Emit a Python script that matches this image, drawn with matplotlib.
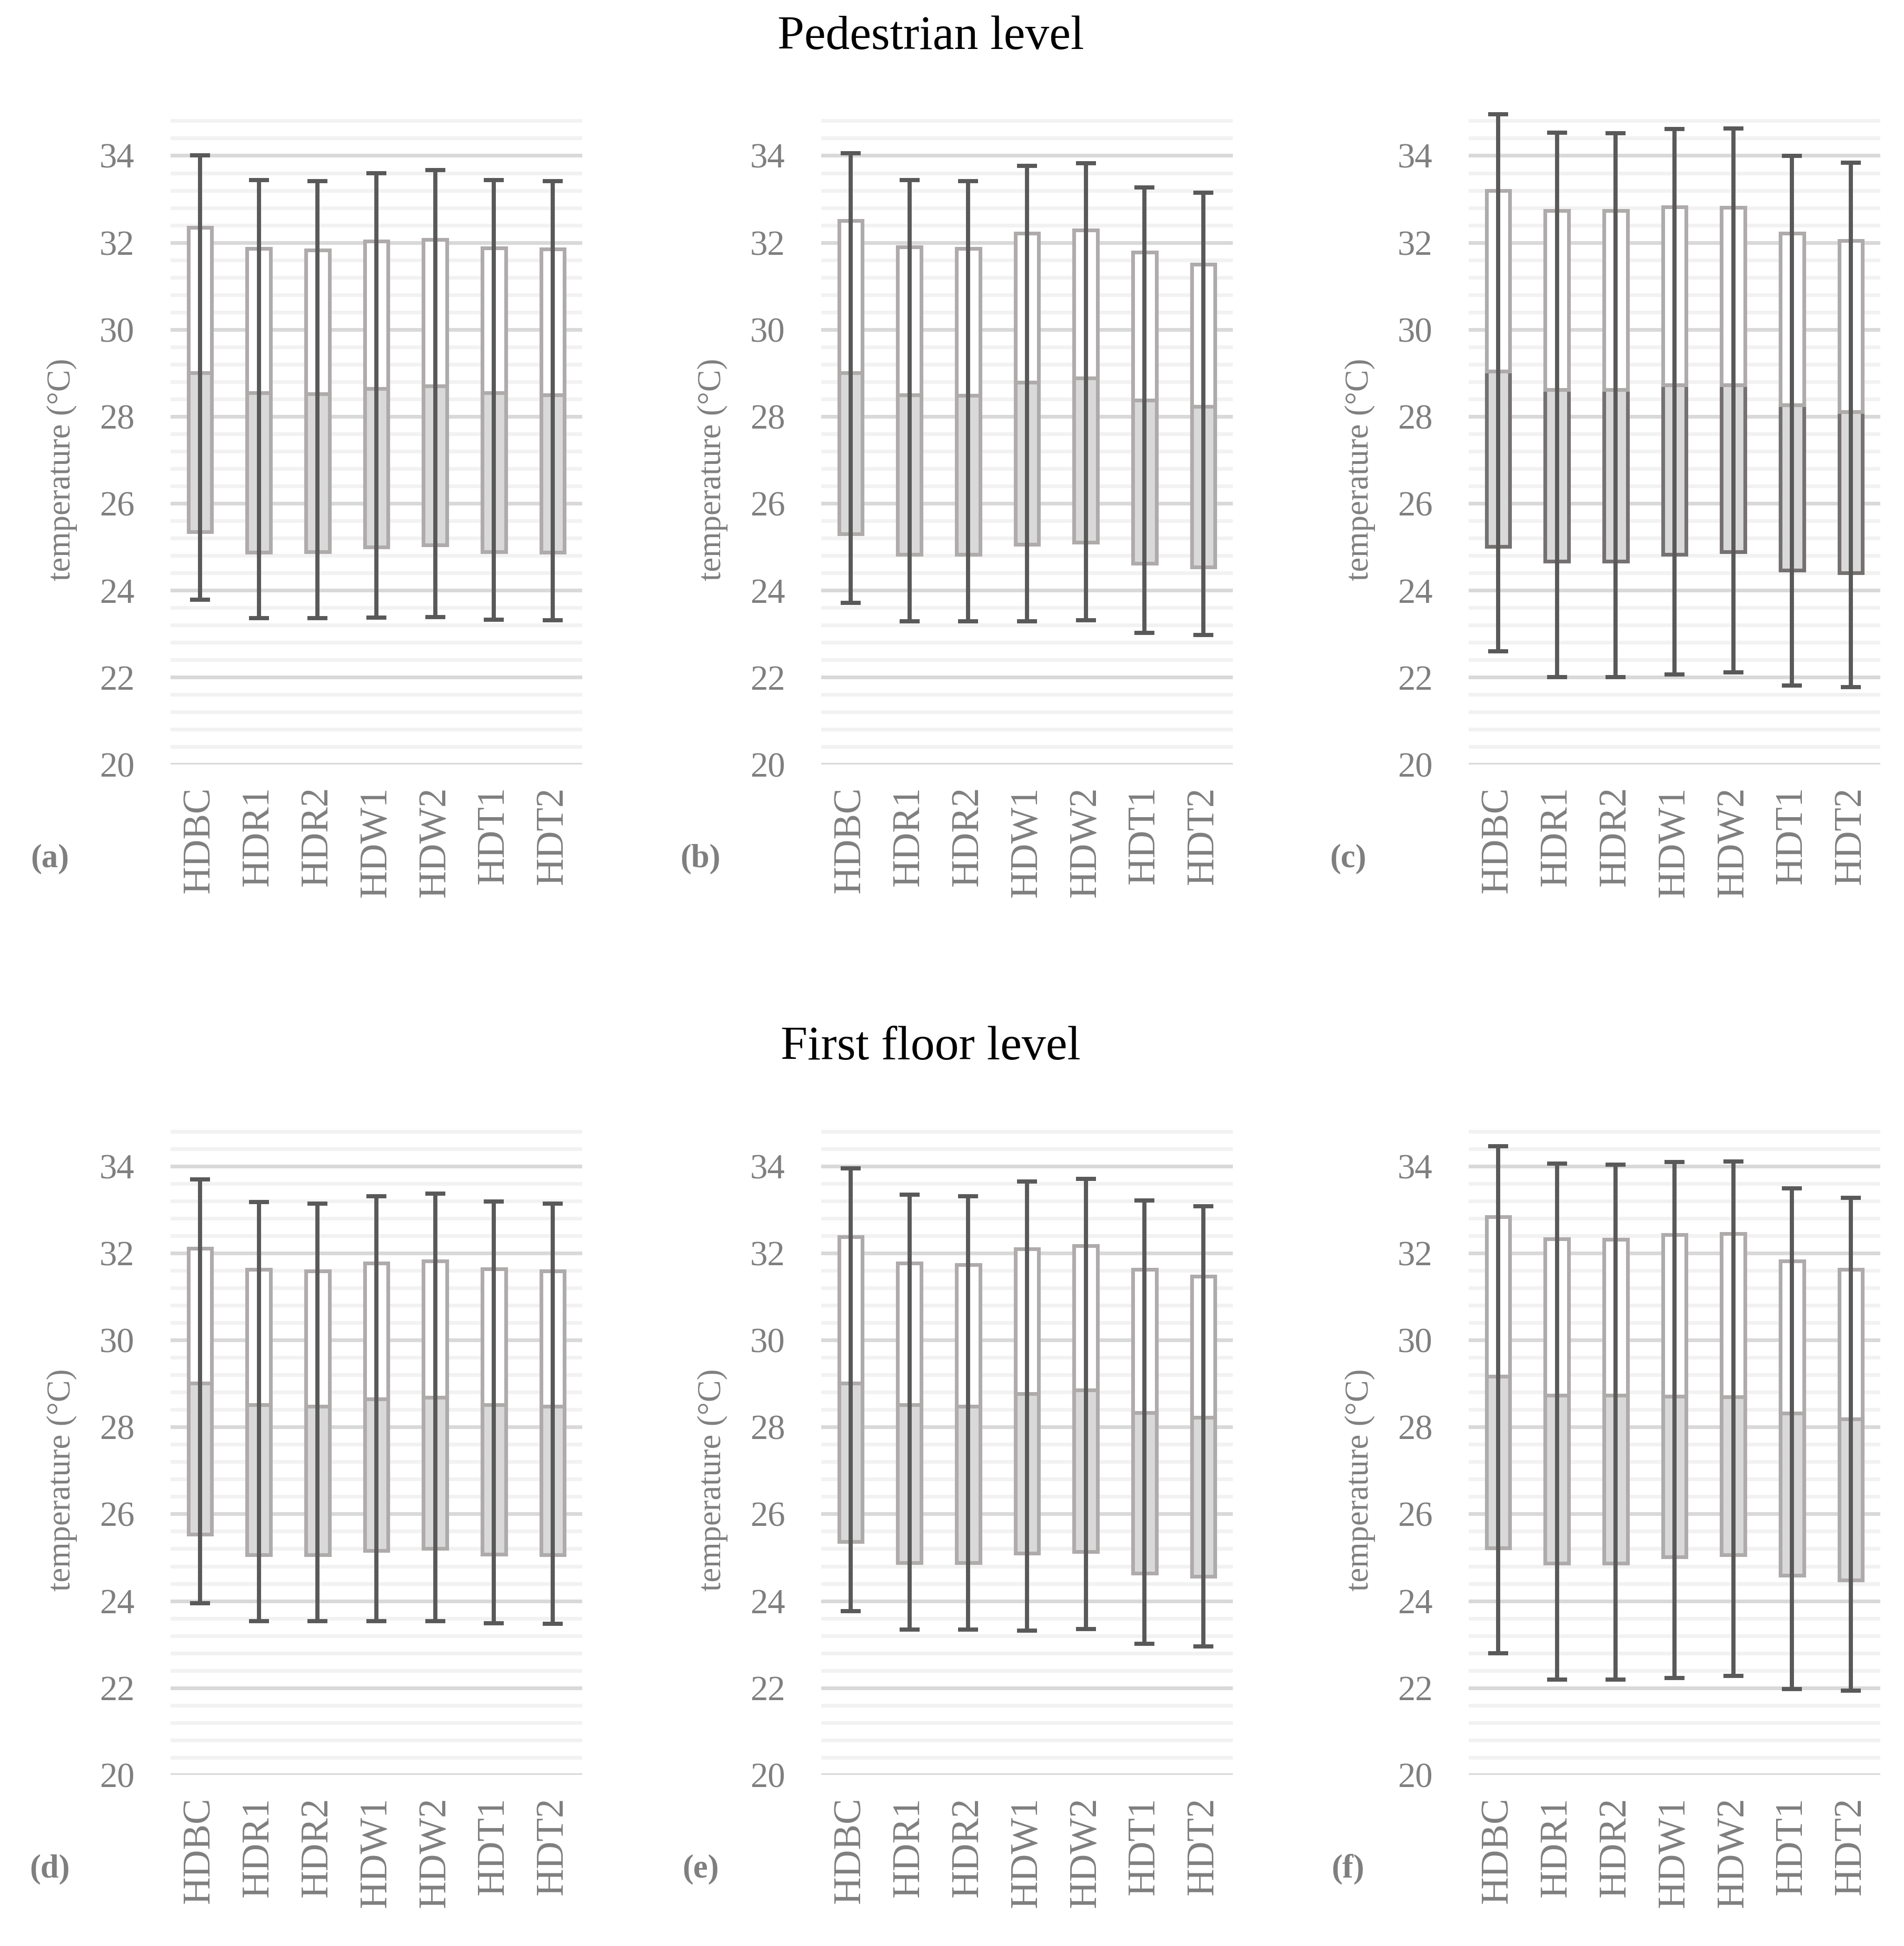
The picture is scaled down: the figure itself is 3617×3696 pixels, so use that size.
import numpy as np
import matplotlib
matplotlib.use("Agg")
import matplotlib.pyplot as plt

categories = ["HDBC", "HDR1", "HDR2", "HDW1", "HDW2", "HDT1", "HDT2"]

# (a) Pedestrian level
a_max = [34.00, 33.44, 33.41, 33.60, 33.67, 33.44, 33.41]
a_q3  = [32.35, 31.86, 31.83, 32.03, 32.07, 31.87, 31.85]
a_med = [29.01, 28.54, 28.52, 28.64, 28.70, 28.54, 28.50]
a_q1  = [25.35, 24.88, 24.89, 24.99, 25.04, 24.89, 24.88]
a_min = [23.78, 23.36, 23.36, 23.37, 23.38, 23.32, 23.31]

# (b)
b_max = [34.06, 33.44, 33.41, 33.76, 33.83, 33.27, 33.14]
b_q3  = [32.50, 31.90, 31.86, 32.21, 32.29, 31.78, 31.50]
b_med = [29.01, 28.50, 28.48, 28.79, 28.88, 28.37, 28.23]
b_q1  = [25.30, 24.83, 24.83, 25.06, 25.11, 24.62, 24.53]
b_min = [23.71, 23.29, 23.29, 23.29, 23.31, 23.02, 22.97]

# (c)
c_max = [34.95, 34.53, 34.52, 34.61, 34.62, 33.99, 33.84]
c_q3  = [33.20, 32.73, 32.73, 32.82, 32.81, 32.21, 32.04]
c_med = [29.04, 28.62, 28.62, 28.73, 28.72, 28.27, 28.11]
c_q1  = [25.01, 24.67, 24.67, 24.82, 24.89, 24.46, 24.40]
c_min = [22.60, 22.01, 22.01, 22.06, 22.11, 21.81, 21.77]

# (d) First floor level
d_max = [33.69, 33.17, 33.13, 33.31, 33.36, 33.18, 33.13]
d_q3  = [32.11, 31.62, 31.59, 31.77, 31.82, 31.63, 31.59]
d_med = [29.01, 28.51, 28.48, 28.64, 28.68, 28.51, 28.48]
d_q1  = [25.53, 25.06, 25.06, 25.16, 25.21, 25.07, 25.06]
d_min = [23.95, 23.53, 23.53, 23.53, 23.54, 23.49, 23.48]

# (e)
e_max = [33.95, 33.34, 33.30, 33.64, 33.71, 33.21, 33.07]
e_q3  = [32.37, 31.77, 31.73, 32.10, 32.17, 31.62, 31.46]
e_med = [29.01, 28.51, 28.48, 28.77, 28.85, 28.33, 28.22]
e_q1  = [25.36, 24.88, 24.88, 25.10, 25.13, 24.64, 24.56]
e_min = [23.76, 23.34, 23.34, 23.32, 23.35, 23.01, 22.96]

# (f)
f_max = [34.46, 34.05, 34.03, 34.09, 34.10, 33.49, 33.27]
f_q3  = [32.83, 32.32, 32.31, 32.42, 32.45, 31.81, 31.62]
f_med = [29.17, 28.73, 28.73, 28.70, 28.69, 28.32, 28.18]
f_q1  = [25.22, 24.87, 24.87, 25.01, 25.06, 24.59, 24.48]
f_min = [22.80, 22.19, 22.19, 22.23, 22.28, 21.97, 21.94]

panel_labels = ["a", "b", "c", "d", "e", "f"]
row_titles = ["Pedestrian level", "First floor level"]
y_label = "temperature (\u00b0C)"

panels = [
    (a_max, a_q3, a_med, a_q1, a_min),
    (b_max, b_q3, b_med, b_q1, b_min),
    (c_max, c_q3, c_med, c_q1, c_min),
    (d_max, d_q3, d_med, d_q1, d_min),
    (e_max, e_q3, e_med, e_q1, e_min),
    (f_max, f_q3, f_med, f_q1, f_min),
]

SERIF = ["Liberation Serif", "DejaVu Serif"]
GRAY_TXT = "#7F7F7F"
BOX_EDGE = "#AFABAB"
BOX_EDGE_DARK = "#767171"
BOX_FILL = "#D9D9D9"
WHISK = "#595959"

W, H = 3617, 3696
DPI = 300
fig = plt.figure(figsize=(W / DPI, H / DPI), dpi=DPI)

lefts = [324, 1560, 2790]
ax_w = 782
row_top = [212.9, 2132.0]
row_bot = [1451.5, 3371.0]

x = np.arange(len(categories))

for i, (vmax, vq3, vmed, vq1, vmin) in enumerate(panels):
    r, c = divmod(i, 3)
    l = lefts[c] / W
    b = 1 - row_bot[r] / H
    h = (row_bot[r] - row_top[r]) / H
    ax = fig.add_axes([l, b, ax_w / W, h])

    vmax = np.array(vmax); vq3 = np.array(vq3); vmed = np.array(vmed)
    vq1 = np.array(vq1); vmin = np.array(vmin)

    low_edge = BOX_EDGE_DARK if panel_labels[i] == "c" else BOX_EDGE
    ax.bar(x, vmed - vq1, bottom=vq1, width=0.40, color=BOX_FILL,
           edgecolor=low_edge, linewidth=1.7, zorder=3)
    ax.bar(x, vq3 - vmed, bottom=vmed, width=0.40, color="white",
           edgecolor=BOX_EDGE, linewidth=1.7, zorder=3)
    ax.errorbar(x, vmed, yerr=[vmed - vmin, vmax - vmed], fmt="none",
                ecolor=WHISK, elinewidth=1.9, capsize=4.6, capthick=1.9,
                zorder=5)

    ax.set_xlim(-0.5, len(categories) - 0.5)
    ax.set_ylim(20, 35)
    ax.set_yticks(np.arange(20, 34.01, 2))
    ax.set_yticks(np.arange(20, 34.81, 0.4), minor=True)
    ax.yaxis.grid(True, which="major", color="#D9D9D9", linewidth=1.7, zorder=0)
    ax.yaxis.grid(True, which="minor", color="#F2F2F2", linewidth=1.7, zorder=0)
    ax.set_axisbelow(True)
    for s in ax.spines.values():
        s.set_visible(False)

    ax.set_xticks(x)
    ax.set_xticklabels(categories, rotation=90, family=SERIF, fontsize=17.5,
                       color=GRAY_TXT)
    ax.set_yticklabels([f"{v:g}" for v in np.arange(20, 34.01, 2)],
                       family=SERIF, fontsize=16, color=GRAY_TXT)
    ax.tick_params(axis="both", which="both", length=0)
    ax.tick_params(axis="x", pad=10)
    ax.tick_params(axis="y", pad=16.5)

    ax.set_ylabel(y_label, family=SERIF, fontsize=15, color=GRAY_TXT)
    ax.yaxis.set_label_coords(-0.226, 0.452)

    ax.text(-0.293, -0.145, f"({panel_labels[i]})", transform=ax.transAxes,
            ha="center", va="center", family=SERIF, fontsize=15,
            fontweight="bold", color=GRAY_TXT)

fig.text(1768 / W, 1 - 71 / H, row_titles[0], ha="center", va="center",
         family=SERIF, fontsize=22, color="black")
fig.text(1768 / W, 1 - 1990 / H, row_titles[1], ha="center", va="center",
         family=SERIF, fontsize=22, color="black")

fig.savefig("out.png", dpi=DPI, facecolor="white")
